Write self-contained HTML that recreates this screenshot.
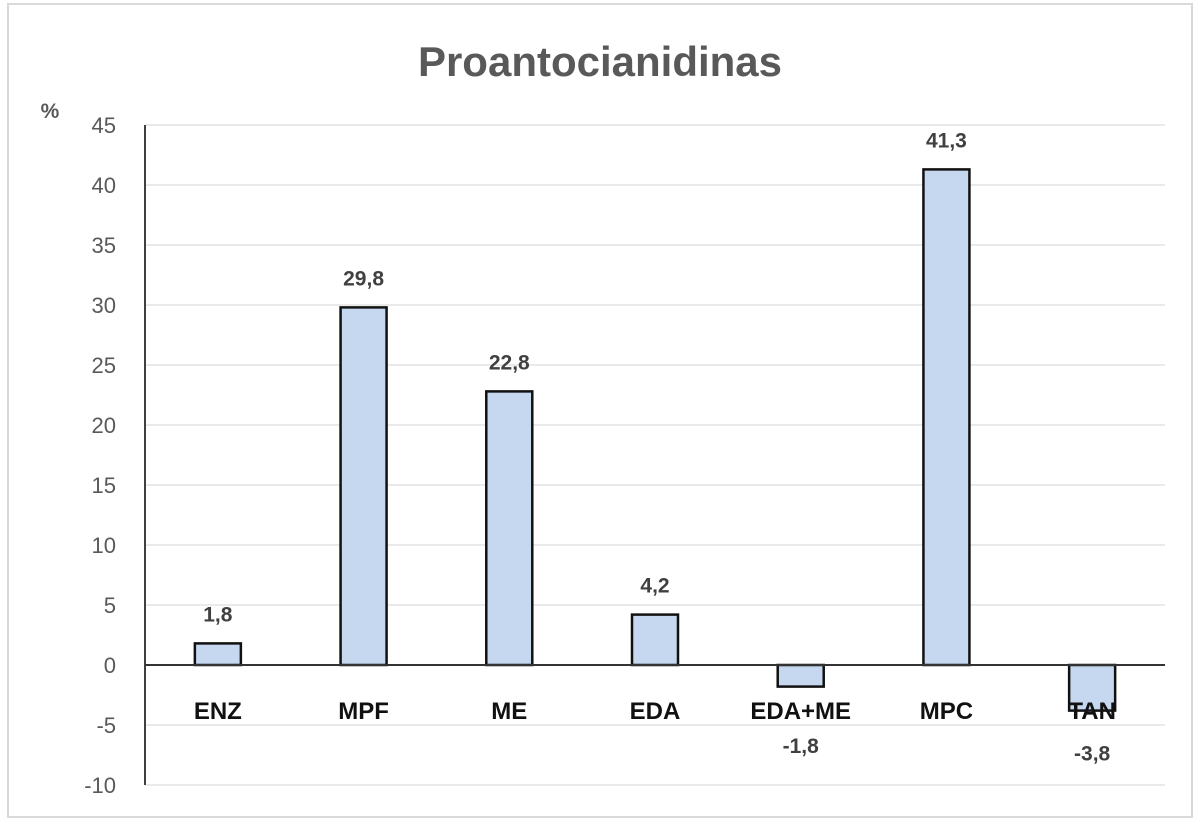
<!DOCTYPE html>
<html><head><meta charset="utf-8"><style>
html,body{margin:0;padding:0;background:#fff}
svg{display:block;font-family:"Liberation Sans",sans-serif}
</style></head><body>
<svg id="c" width="1200" height="824">
<rect x="8" y="4" width="1184" height="813" fill="#fff" stroke="#d9d9d9" stroke-width="2"/>
<text x="600" y="76" text-anchor="middle" font-size="42" font-weight="bold" fill="#595959">Proantocianidinas</text>
<text x="50" y="118" text-anchor="middle" font-size="21" font-weight="bold" fill="#595959">%</text>
<g id="grid"></g><g id="bars"></g><g id="labels"></g>
</svg>
<script>
const categories=["ENZ","MPF","ME","EDA","EDA+ME","MPC","TAN"];
const values=[1.8,29.8,22.8,4.2,-1.8,41.3,-3.8];
const valueLabels=["1,8","29,8","22,8","4,2","-1,8","41,3","-3,8"];
const yTicks=[45,40,35,30,25,20,15,10,5,0,-5,-10];
const ns="http://www.w3.org/2000/svg";
const X0=145,X1=1165,Y0=665,PX=12;
const y=v=>Y0-v*PX;
const bw=(X1-X0)/categories.length;
const xc=i=>X0+bw*(i+0.5);
function mk(t,a,p){const e=document.createElementNS(ns,t);for(const k in a)e.setAttribute(k,a[k]);p.appendChild(e);return e;}
const g=document.getElementById('grid'),b=document.getElementById('bars'),l=document.getElementById('labels');
yTicks.forEach(v=>{
 if(v!==0){const ln=mk('line',{x1:X0,x2:X1,y1:y(v),y2:y(v),stroke:'#e3e3e3','stroke-width':1.5},g);
 
 }
 const t=mk('text',{x:116,y:y(v)+8,'text-anchor':'end','font-size':22,fill:'#595959'},g);
 t.textContent=v;
 
 
});
const ax=mk('line',{x1:X0,x2:X0,y1:y(45),y2:y(-10),stroke:'#404040','stroke-width':2},g);


values.forEach((v,i)=>{
 const top=Math.min(y(v),Y0),h=Math.abs(y(v)-Y0);
 const r=mk('rect',{x:xc(i)-23,y:top,width:46,height:h,fill:'#c6d8f0',stroke:'#111','stroke-width':2.5},b);
 
 
 const ly=v>=0?y(v)-22:Math.max(y(v)+50,Y0+88);
 const t=mk('text',{x:xc(i),y:ly,'text-anchor':'middle','font-size':21,'font-weight':'bold',fill:'#404040'},l);
 t.textContent=valueLabels[i];
 
 
 const c=mk('text',{x:xc(i),y:Y0+54,'text-anchor':'middle','font-size':24,'font-weight':'bold',fill:'#111'},l);
 c.textContent=categories[i];
 
 
});
const za=mk('line',{x1:X0,x2:X1,y1:Y0,y2:Y0,stroke:'#333','stroke-width':2},b);


</script>
</body></html>
